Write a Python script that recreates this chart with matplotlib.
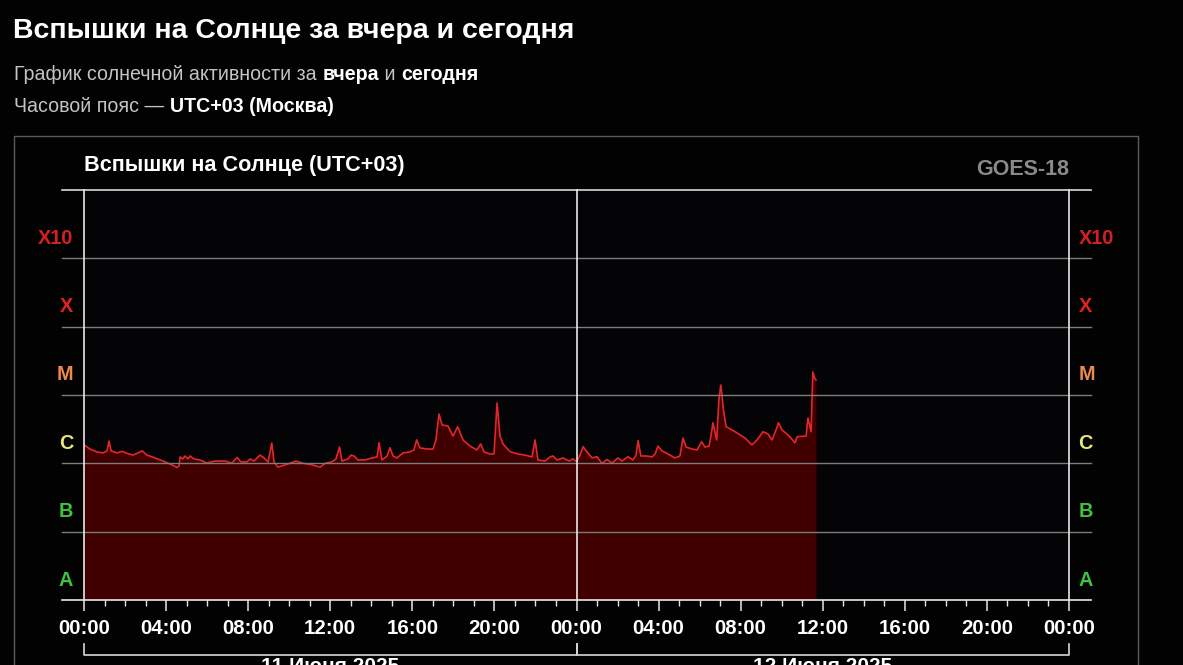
import matplotlib
matplotlib.use('Agg')
import matplotlib.pyplot as plt
import matplotlib.transforms as mtransforms
from matplotlib.lines import Line2D

# ---------------- data (hours since 00:00 of day 1, X-ray flux W/m^2) ----------------
hours_day1 = [0.00, 0.29, 0.63, 0.93, 1.12, 1.22, 1.32, 1.61, 1.85, 2.10, 2.39, 2.63, 2.83,
              3.07, 3.46, 3.95, 4.29, 4.53, 4.63, 4.68, 4.82, 4.92, 5.07, 5.17, 5.36, 5.65,
              5.99, 6.38, 6.87, 7.21, 7.46, 7.65, 7.94, 8.09, 8.28, 8.58, 8.77, 8.97, 9.15,
              9.26, 9.45, 9.94, 10.33, 10.62, 11.11, 11.50, 11.79, 12.09, 12.28, 12.45, 12.57,
              12.87, 13.01, 13.16, 13.35, 13.69, 14.04, 14.28, 14.38, 14.52, 14.77, 14.91,
              15.06, 15.25, 15.55, 15.89, 16.08, 16.21, 16.37, 16.72, 17.01, 17.15, 17.30,
              17.45, 17.74, 17.98, 18.21, 18.47, 18.81, 19.15, 19.33, 19.49, 19.79, 19.98,
              20.13, 20.27, 20.42, 20.76, 21.15, 21.49, 21.83, 21.98, 22.12, 22.47, 22.71,
              22.85, 23.05, 23.34, 23.64, 23.83]
flux_day1 = [1.86e-6, 1.62e-6, 1.47e-6, 1.42e-6, 1.52e-6, 2.12e-6, 1.52e-6, 1.42e-6, 1.50e-6,
             1.40e-6, 1.32e-6, 1.42e-6, 1.52e-6, 1.32e-6, 1.20e-6, 1.05e-6, 9.5e-7, 8.7e-7,
             9.1e-7, 1.24e-6, 1.16e-6, 1.28e-6, 1.16e-6, 1.28e-6, 1.16e-6, 1.12e-6, 1.01e-6,
             1.08e-6, 1.08e-6, 1.01e-6, 1.22e-6, 1.05e-6, 1.05e-6, 1.16e-6, 1.08e-6, 1.32e-6,
             1.20e-6, 1.05e-6, 1.98e-6, 1.05e-6, 8.8e-7, 9.8e-7, 1.08e-6, 1.01e-6, 9.5e-7,
             8.8e-7, 1.01e-6, 1.05e-6, 1.16e-6, 1.73e-6, 1.08e-6, 1.16e-6, 1.32e-6, 1.28e-6,
             1.12e-6, 1.12e-6, 1.20e-6, 1.24e-6, 2.00e-6, 1.12e-6, 1.28e-6, 1.69e-6, 1.28e-6,
             1.20e-6, 1.42e-6, 1.47e-6, 1.57e-6, 2.20e-6, 1.68e-6, 1.62e-6, 1.62e-6, 2.20e-6,
             5.27e-6, 3.64e-6, 3.52e-6, 2.51e-6, 3.44e-6, 2.20e-6, 1.79e-6, 1.57e-6, 1.92e-6,
             1.47e-6, 1.37e-6, 1.37e-6, 7.64e-6, 2.51e-6, 1.92e-6, 1.48e-6, 1.37e-6, 1.32e-6,
             1.24e-6, 2.20e-6, 1.12e-6, 1.08e-6, 1.24e-6, 1.28e-6, 1.12e-6, 1.20e-6, 1.08e-6,
             1.16e-6]
hours_day2 = [24.01, 24.17, 24.32, 24.51, 24.76, 25.00, 25.24, 25.49, 25.73, 26.02, 26.22,
              26.36, 26.51, 26.75, 26.90, 27.00, 27.14, 27.44, 27.68, 27.83, 27.97, 28.17,
              28.36, 28.80, 29.04, 29.19, 29.34, 29.63, 29.87, 30.10, 30.26, 30.46, 30.56,
              30.65, 30.83, 30.94, 31.03, 31.09, 31.16, 31.29, 31.73, 32.21, 32.55, 32.80,
              33.09, 33.33, 33.53, 33.72, 33.84, 34.02, 34.31, 34.65, 34.75, 35.19, 35.28,
              35.43, 35.52, 35.60, 35.67]
flux_day2 = [1.06e-6, 1.32e-6, 1.75e-6, 1.47e-6, 1.20e-6, 1.25e-6, 1.00e-6, 1.14e-6, 1.01e-6,
             1.20e-6, 1.08e-6, 1.16e-6, 1.25e-6, 1.12e-6, 1.32e-6, 2.15e-6, 1.28e-6, 1.28e-6,
             1.24e-6, 1.37e-6, 1.79e-6, 1.52e-6, 1.42e-6, 1.20e-6, 1.28e-6, 2.35e-6, 1.73e-6,
             1.62e-6, 1.57e-6, 2.07e-6, 1.73e-6, 1.79e-6, 2.60e-6, 3.93e-6, 2.20e-6, 8.45e-6,
             1.40e-5, 1.00e-5, 6.03e-6, 3.44e-6, 2.90e-6, 2.35e-6, 1.86e-6, 2.20e-6, 2.90e-6,
             2.69e-6, 2.20e-6, 3.07e-6, 3.93e-6, 3.07e-6, 2.60e-6, 2.00e-6, 2.45e-6, 2.51e-6,
             4.61e-6, 2.90e-6, 2.17e-5, 1.77e-5, 1.66e-5]

class_labels = ['A', 'B', 'C', 'M', 'X', 'X10']
class_levels = [1e-8, 1e-7, 1e-6, 1e-5, 1e-4, 1e-3]
class_colors = ['#3ec43e', '#3ec43e', '#e8e47c', '#f0884a', '#e02222', '#d42020']
tick_hours = [0, 4, 8, 12, 16, 20, 24, 28, 32, 36, 40, 44, 48]
tick_labels = ['00:00', '04:00', '08:00', '12:00', '16:00', '20:00', '00:00',
               '04:00', '08:00', '12:00', '16:00', '20:00', '00:00']
date_labels = ['11 Июня 2025', '12 Июня 2025']

title = 'Вспышки на Солнце за вчера и сегодня'
sub1 = [('График солнечной активности за ', False), ('вчера', True), (' и ', False), ('сегодня', True)]
sub2 = [('Часовой пояс — ', False), ('UTC+03 (Москва)', True)]
chart_title = 'Вспышки на Солнце (UTC+03)'
source = 'GOES-18'

# ---------------- figure ----------------
plt.rcParams['font.family'] = ['Liberation Sans', 'DejaVu Sans']
W, H = 1183, 665
fig = plt.figure(figsize=(W / 100, H / 100), dpi=100, facecolor='#020203')

def fx(px):
    return px / W

def fy(py):
    return 1 - py / H

ax = fig.add_axes([fx(84), fy(600), fx(1069) - fx(84), fy(190) - fy(600)])
ax.set_facecolor('#040306')
ax.set_yscale('log')
ax.set_ylim(1e-8, 1e-2)
ax.set_xlim(0, 48)
for s in ax.spines.values():
    s.set_visible(False)

hours = hours_day1 + hours_day2
flux = flux_day1 + flux_day2
ax.fill_between(hours, flux, 1e-8, color='#400000', lw=0, zorder=1)
ax.plot(hours, flux, color='#e3262c', lw=1.2, zorder=2)

blend = mtransforms.blended_transform_factory(ax.transAxes, ax.transData)
ext = 22 / 985
for lev in class_levels[1:]:
    ax.plot([-ext, 1 + ext], [lev, lev], transform=blend, color='#7c7c7c', lw=1,
            clip_on=False, zorder=3)
ax.plot([-ext, 1 + ext], [1e-2, 1e-2], transform=blend, color='#d8d8d8', lw=1.2,
        clip_on=False, zorder=3)
ax.plot([-ext, 1 + ext], [1e-8, 1e-8], transform=blend, color='#e8e8e8', lw=1.2,
        clip_on=False, zorder=4)
for xv in (0, 24, 48):
    ax.plot([xv, xv], [1e-8, 1e-2], color='#e8e8e8', lw=1.2, clip_on=False, zorder=4)

# x ticks
ax.set_yticks([])
ax.yaxis.set_minor_locator(matplotlib.ticker.NullLocator())
ax.set_xticks(tick_hours)
ax.set_xticklabels(tick_labels)
ax.set_xticks(range(0, 49), minor=True)
ax.tick_params(axis='x', which='major', direction='out', length=8.2, width=1.1,
               color='#e8e8e8', labelcolor='white', labelsize=14.7, pad=5.5)
ax.tick_params(axis='x', which='minor', direction='out', length=4.4, width=1.0,
               color='#e8e8e8')
for lab in ax.get_xticklabels():
    lab.set_fontweight('bold')

# class labels
for lab, lev, col in zip(class_labels, class_levels, class_colors):
    ax.annotate(lab, xy=(0, lev), xycoords=blend, xytext=(-11 * 0.72, 20 * 0.72),
                textcoords='offset points', ha='right', va='center', color=col,
                fontsize=14.3, fontweight='bold', annotation_clip=False)
    ax.annotate(lab, xy=(1, lev), xycoords=blend, xytext=(9.5 * 0.72, 20 * 0.72),
                textcoords='offset points', ha='left', va='center', color=col,
                fontsize=14.3, fontweight='bold', annotation_clip=False)

# date brackets
dblend = mtransforms.blended_transform_factory(ax.transData, ax.transAxes)
y_line = (600 - 655) / 410
y_top = (600 - 644) / 410
for (a, b), dl in zip([(0, 24), (24, 48)], date_labels):
    ax.plot([a, a, b, b], [y_top, y_line, y_line, y_top], transform=dblend,
            color='#d8d8d8', lw=1.2, clip_on=False)
    ax.text((a + b) / 2, (600 - 657.5) / 410, dl, transform=dblend, ha='center', va='top',
            color='white', fontsize=15, fontweight='bold', clip_on=False)

# outer frame
fig.add_artist(Line2D([fx(14), fx(14), fx(1138), fx(1138)],
                      [fy(700), fy(135.5), fy(135.5), fy(700)],
                      transform=fig.transFigure, color='#5a5a5a', lw=1))

# titles
fig.text(fx(13), fy(38), title, color='white', fontsize=20.5, fontweight='bold',
         ha='left', va='baseline')

renderer = fig.canvas.get_renderer()

def rich_line(parts, x0, ybase, size):
    x = x0
    for txt, bold in parts:
        t = fig.text(x, ybase, txt, color='white' if bold else '#c4c4c4', fontsize=size,
                     fontweight='bold' if bold else 'normal', ha='left', va='baseline')
        bb = t.get_window_extent(renderer=renderer)
        x = x + bb.width / W

rich_line(sub1, fx(14), fy(80), 14.1)
rich_line(sub2, fx(14), fy(112), 14.1)

fig.text(fx(84), fy(171), chart_title, color='white', fontsize=15.6, fontweight='bold',
         ha='left', va='baseline')
fig.text(fx(1069), fy(175), source, color='#8a8a8a', fontsize=15.5, fontweight='bold',
         ha='right', va='baseline')

fig.savefig('out.png', dpi=100, facecolor=fig.get_facecolor())
